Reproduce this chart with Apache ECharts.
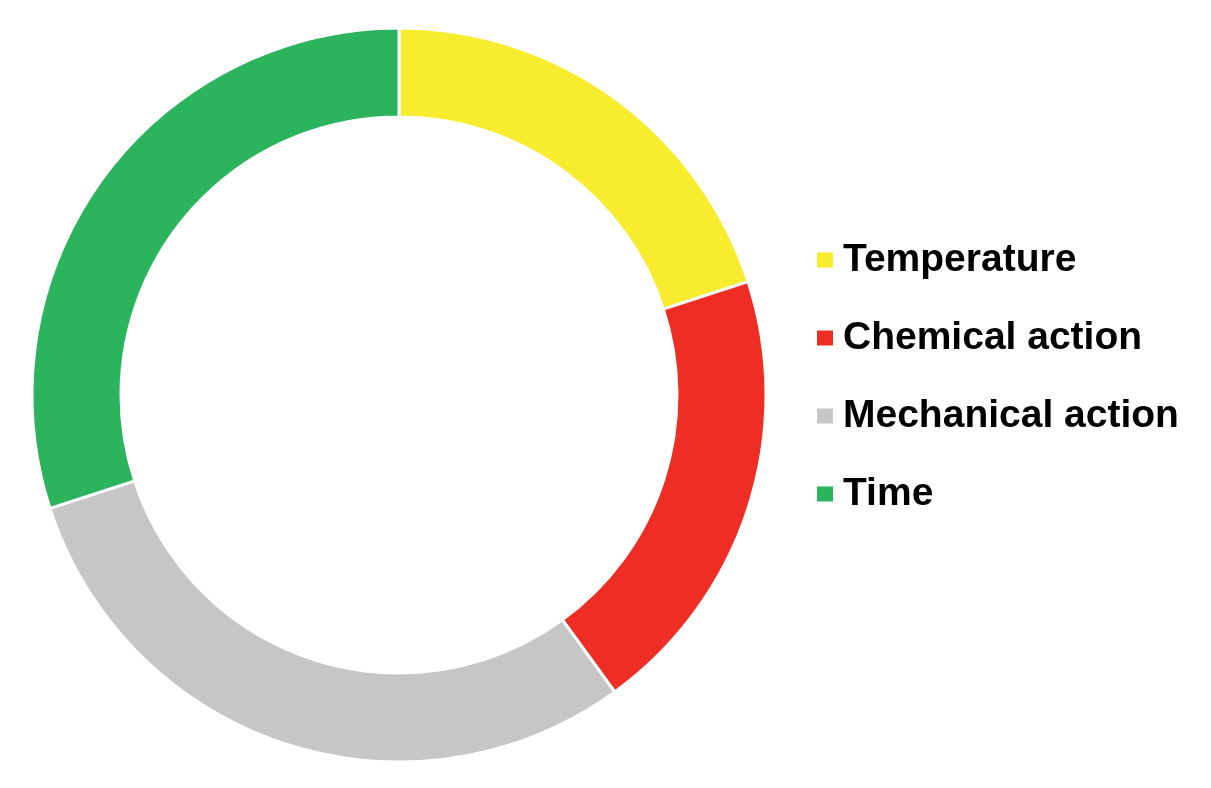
<!DOCTYPE html>
<html>
<head>
<meta charset="utf-8">
<script src="https://cdn.jsdelivr.net/npm/echarts@6/dist/echarts.min.js"></script>
<style>html,body{margin:0;padding:0;background:#fff;}#c{width:1211px;height:788px;}</style>
</head>
<body>
<div id="c"></div>
<script>
var categories = ["Temperature", "Chemical action", "Mechanical action", "Time"];
var values = [20, 20, 30, 30];
var colors = ["#F7EC2E", "#EE2E24", "#C6C6C6", "#2BB35E"];

var chart = echarts.init(document.getElementById('c'), null, {renderer: 'canvas'});
chart.setOption({
  backgroundColor: '#ffffff',
  animation: false,
  legend: {
    orient: 'vertical',
    left: 810,
    top: 235,
    itemWidth: 18,
    itemHeight: 17,
    itemGap: 38,
    icon: 'rect',
    data: categories,
    textStyle: {
      fontFamily: 'Liberation Sans, Arial, sans-serif',
      fontWeight: 'bold',
      fontSize: 39,
      lineHeight: 40,
      color: '#000',
      padding: [0, 0, 0, 4]
    }
  },
  series: [{
    type: 'pie',
    center: [399, 395],
    radius: [278, 367],
    startAngle: 90,
    clockwise: true,
    label: {show: false},
    labelLine: {show: false},
    emphasis: {disabled: true},
    itemStyle: {borderColor: '#ffffff', borderWidth: 3},
    data: categories.map(function (n, i) {
      return {name: n, value: values[i], itemStyle: {color: colors[i]}};
    })
  }]
});
</script>
</body>
</html>
